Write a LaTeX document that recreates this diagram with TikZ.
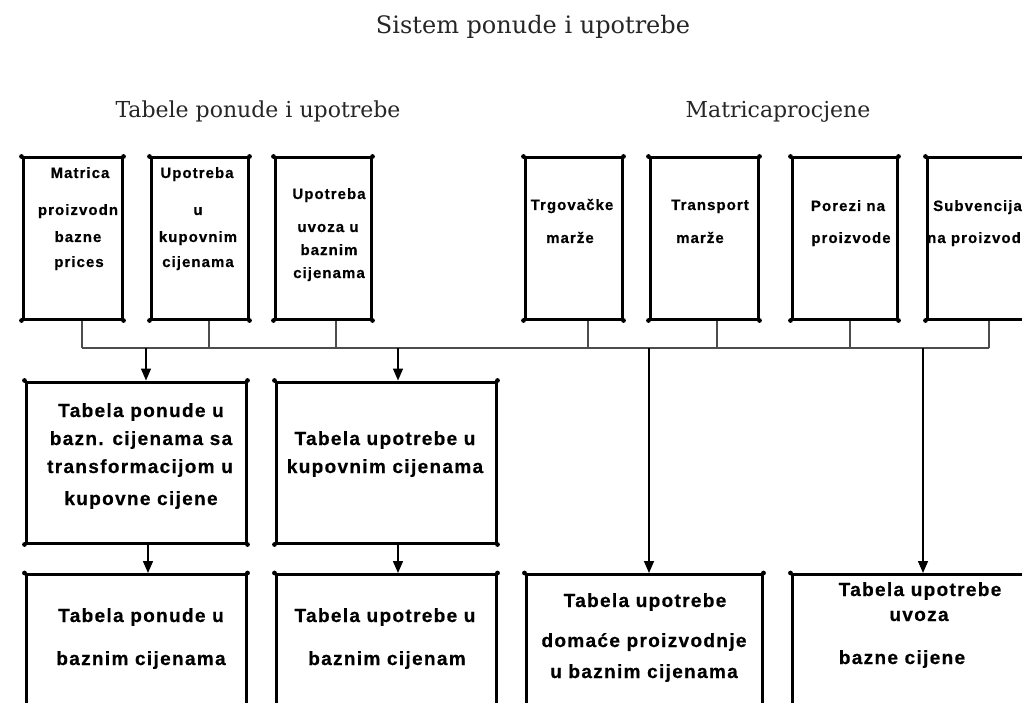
\documentclass[tikz,border=0pt]{standalone}
\usepackage{fontspec}
\setmainfont{DejaVu Serif}
\newfontfamily\boxfont{Liberation Sans}[LetterSpace=7,FakeBold=0.6]
\usetikzlibrary{arrows.meta}
\tikzset{
  box/.style={draw=black, line width=3pt, inner sep=0pt, rectangle},
  bus/.style={draw=black!70, line width=1.2pt},
  arr/.style={draw=black, line width=1.5pt, -{Triangle[length=12pt,width=10pt]}},
  tsmall/.style={font=\boxfont\bfseries\fontsize{15}{18}\selectfont, inner sep=0pt, anchor=base, text=black},
  tbig/.style={font=\boxfont\bfseries\fontsize{19}{22}\selectfont, inner sep=0pt, anchor=base, text=black},
  ttitle/.style={font=\fontsize{24}{28}\selectfont, inner sep=0pt, anchor=base, text=black!85},
  tsub/.style={font=\fontsize{22}{26}\selectfont, inner sep=0pt, anchor=base, text=black!85},
}
\begin{document}
\begin{tikzpicture}[x=1pt,y=-1pt]
\useasboundingbox (0,0) rectangle (1022,703);
\clip (0,0) rectangle (1022,703);
\fill[white] (0,0) rectangle (1022,703);

% titles
\node[ttitle] (title) at (533,34) {Sistem ponude i upotrebe};
\node[tsub] (sub1) at (258,118) {Tabele ponude i upotrebe};
\node[tsub] (sub2) at (778,118) {Matricaprocjene};

% top boxes
\node[box, minimum width=99pt,  minimum height=161pt] (b1) at (72.5,238.5) {};
\node[box, minimum width=97pt,  minimum height=161pt] (b2) at (199.5,238.5) {};
\node[box, minimum width=96pt,  minimum height=161pt] (b3) at (323,238.5) {};
\node[box, minimum width=97pt,  minimum height=161pt] (b4) at (573.5,238.5) {};
\node[box, minimum width=108pt, minimum height=161pt] (b5) at (704,238.5) {};
\node[box, minimum width=105pt, minimum height=161pt] (b6) at (844.5,238.5) {};
\node[box, minimum width=103pt, minimum height=161pt] (b7) at (978.5,238.5) {};

% middle boxes
\node[box, minimum width=220pt, minimum height=161pt] (mA) at (136,462.5) {};
\node[box, minimum width=220pt, minimum height=161pt] (mB) at (386,462.5) {};

% bottom boxes
\node[box, minimum width=220pt, minimum height=145pt] (bE) at (136,647) {};
\node[box, minimum width=220pt, minimum height=145pt] (bF) at (386,647) {};
\node[box, minimum width=236pt, minimum height=145pt] (bG) at (644,647) {};
\node[box, minimum width=248pt, minimum height=145pt] (bH) at (916,647) {};

% corner dots
\foreach \n in {b1,b2,b3,b4,b5,b6,b7,mA,mB,bE,bF,bG,bH}{
  \foreach \c in {north west,north east,south west,south east}{
    \fill (\n.\c) circle (2.4pt);
  }
}

% bus
\coordinate (j1) at (82,348);
\coordinate (j2) at (209,348);
\coordinate (j3) at (336,348);
\coordinate (j4) at (588,348);
\coordinate (j5) at (717,348);
\coordinate (j6) at (850,348);
\coordinate (j7) at (989,348);
\draw[bus] (j1) -- (j7);
\foreach \b/\j in {b1/j1,b2/j2,b3/j3,b4/j4,b5/j5,b6/j6,b7/j7}{
  \draw[bus] (\b.south -| \j) -- (\j);
}
\coordinate (s1) at (146,348);
\coordinate (s2) at (398,348);
\coordinate (s3) at (649,348);
\coordinate (s4) at (923,348);
\draw[arr] (s1) -- (mA.north -| s1);
\draw[arr] (s2) -- (mB.north -| s2);
\draw[arr] (s3) -- (bG.north -| s3);
\draw[arr] (s4) -- (bH.north -| s4);
\draw[arr] ([xshift=12pt]mA.south) -- ([xshift=12pt]bE.north);
\draw[arr] ([xshift=12pt]mB.south) -- ([xshift=12pt]bF.north);

% top box texts
\node[tsmall] (t1a) at (80,178) {Matrica};
\node[tsmall] (t1b) at (78,215) {proizvodn};
\node[tsmall] (t1c) at (78,242) {bazne};
\node[tsmall] (t1d) at (79,267) {prices};
\node[tsmall] (t2a) at (197,178) {Upotreba};
\node[tsmall] (t2b) at (198,215) {u};
\node[tsmall] (t2c) at (198,242) {kupovnim};
\node[tsmall] (t2d) at (198,267) {cijenama};
\node[tsmall] (t3a) at (329,199) {Upotreba};
\node[tsmall] (t3b) at (328,232) {uvoza u};
\node[tsmall] (t3c) at (329,255) {baznim};
\node[tsmall] (t3d) at (329,278) {cijenama};
\node[tsmall] (t4a) at (572,210) {Trgovačke};
\node[tsmall] (t4b) at (570,243) {marže};
\node[tsmall] (t5a) at (710,210) {Transport};
\node[tsmall] (t5b) at (700,243) {marže};
\node[tsmall] (t6a) at (848,211) {Porezi na};
\node[tsmall] (t6b) at (851,243) {proizvode};
\node[tsmall, anchor=base west] (t7a) at (933,211) {Subvencija};
\node[tsmall, anchor=base west] (t7b) at (927,243) {na proizvod};

% middle texts
\node[tbig] (tAa) at (141,417) {Tabela ponude u};
\node[tbig] (tAb) at (141,445) {bazn. cijenama sa};
\node[tbig] (tAc) at (140,473) {transformacijom u};
\node[tbig] (tAd) at (141,505) {kupovne cijene};
\node[tbig] (tBa) at (385,445) {Tabela upotrebe u};
\node[tbig] (tBb) at (385,473) {kupovnim cijenama};

% bottom texts
\node[tbig] (tEa) at (141,622) {Tabela ponude u};
\node[tbig] (tEb) at (141,665) {baznim cijenama};
\node[tbig] (tFa) at (385,622) {Tabela upotrebe u};
\node[tbig] (tFb) at (387,665) {baznim cijenam};
\node[tbig] (tGa) at (645,607) {Tabela upotrebe};
\node[tbig] (tGb) at (644,647) {domaće proizvodnje};
\node[tbig] (tGc) at (644,678) {u baznim cijenama};
\node[tbig] (tHa) at (920,596) {Tabela upotrebe};
\node[tbig] (tHb) at (919,621) {uvoza};
\node[tbig] (tHc) at (902,664) {bazne cijene};
\end{tikzpicture}
\end{document}
